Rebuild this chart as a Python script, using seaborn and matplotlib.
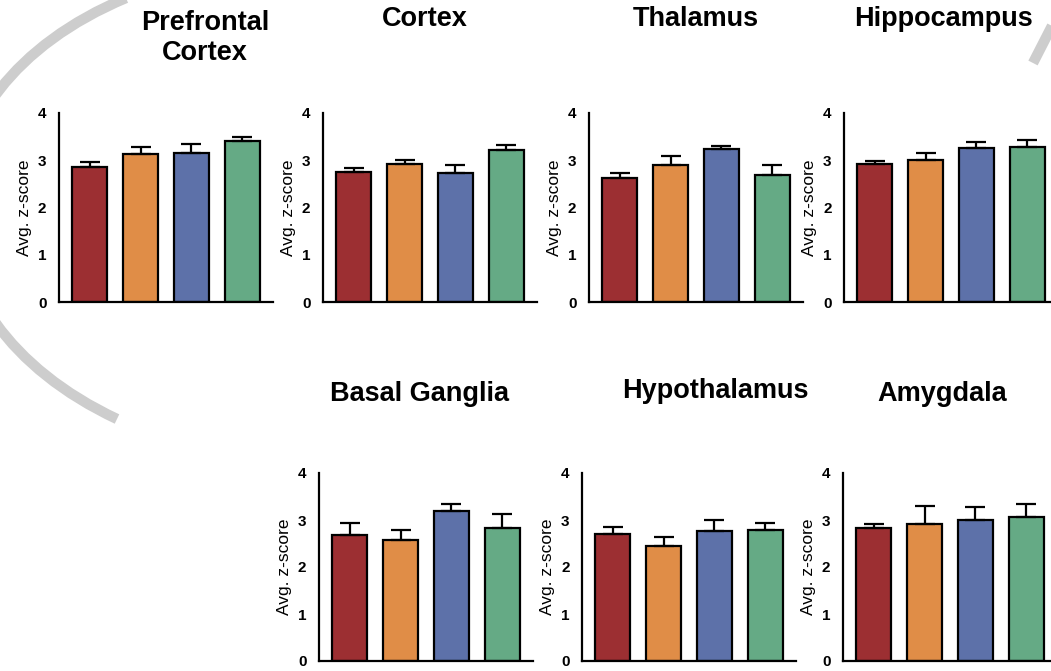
import numpy as np
import pandas as pd
import matplotlib
matplotlib.use("Agg")
import matplotlib.pyplot as plt
from matplotlib.path import Path
from matplotlib.patches import PathPatch
from matplotlib.lines import Line2D
import seaborn as sns

# ---- data -----------------------------------------------------------------
regions = ["Prefrontal\nCortex", "Cortex", "Thalamus", "Hippocampus",
           "Basal Ganglia", "Hypothalamus", "Amygdala"]
groups = ["Group 1", "Group 2", "Group 3", "Group 4"]

prefrontal_mean = [2.86, 3.13, 3.15, 3.41]
prefrontal_sem = [0.10, 0.16, 0.19, 0.08]
cortex_mean = [2.75, 2.92, 2.74, 3.21]
cortex_sem = [0.09, 0.09, 0.16, 0.12]
thalamus_mean = [2.62, 2.91, 3.24, 2.68]
thalamus_sem = [0.12, 0.17, 0.07, 0.21]
hippocampus_mean = [2.93, 3.00, 3.25, 3.28]
hippocampus_sem = [0.05, 0.16, 0.14, 0.14]
basal_ganglia_mean = [2.69, 2.57, 3.20, 2.82]
basal_ganglia_sem = [0.24, 0.21, 0.13, 0.31]
hypothalamus_mean = [2.71, 2.44, 2.76, 2.78]
hypothalamus_sem = [0.15, 0.20, 0.23, 0.16]
amygdala_mean = [2.84, 2.91, 3.01, 3.06]
amygdala_sem = [0.07, 0.38, 0.27, 0.27]

means = [prefrontal_mean, cortex_mean, thalamus_mean, hippocampus_mean,
         basal_ganglia_mean, hypothalamus_mean, amygdala_mean]
sems = [prefrontal_sem, cortex_sem, thalamus_sem, hippocampus_sem,
        basal_ganglia_sem, hypothalamus_sem, amygdala_sem]

yticks = [0, 1, 2, 3, 4]
colors = ["#9C2F32", "#E08D47", "#5D71A9", "#65AA85"]

# ---- style ----------------------------------------------------------------
sns.set_style("white")
plt.rcParams["font.family"] = ["Liberation Sans", "DejaVu Sans"]
plt.rcParams.update({"text.color": "black", "axes.labelcolor": "black",
                     "xtick.color": "black", "ytick.color": "black"})

W, H = 1051, 671
fig = plt.figure(figsize=(W / 100, H / 100), dpi=100)
fig.patch.set_facecolor("white")


def px(x, y):
    """Pixel position (origin top-left) -> figure fraction."""
    return x / W, 1 - y / H


# decorative grey swoosh behind the panels
swoosh = Path([px(126, -2), px(-98, 92), px(-98, 318), px(117, 419)],
              [Path.MOVETO, Path.CURVE4, Path.CURVE4, Path.CURVE4])
fig.add_artist(PathPatch(swoosh, transform=fig.transFigure, fill=False,
                         edgecolor="#cdcdcd", lw=7.5, capstyle="butt", zorder=0))
x0, y0 = px(1054, 22)
x1, y1 = px(1033, 63)
fig.add_artist(Line2D([x0, x1], [y0, y1], transform=fig.transFigure,
                      color="#cdcdcd", lw=7.5, solid_capstyle="butt", zorder=0))

# panel frames in pixels: left, top, bottom, title centre x,
# baseline y of the title's last line
frames = [
    (59, 113, 302, 205, 60),
    (323, 113, 302, 425, 26),
    (589, 113, 302, 696, 26),
    (844, 113, 302, 943, 26),
    (319, 473, 661, 420, 401),
    (582, 473, 661, 715, 398),
    (843, 473, 661, 942, 401),
]
AX_W = 214

for region, m, s, (left, top, bottom, tx, ty) in zip(regions, means, sems, frames):
    fx, fy = px(left, bottom)
    ax = fig.add_axes([fx, fy, AX_W / W, (bottom - top) / H])
    ax.patch.set_alpha(0)

    df = pd.DataFrame({"group": groups, "score": m})
    sns.barplot(data=df, x="group", y="score", hue="group", palette=colors,
                saturation=1, width=0.7, edgecolor="black", linewidth=1.6,
                errorbar=None, legend=False, ax=ax, zorder=2)
    ax.errorbar(np.arange(len(groups)), m,
                yerr=[np.zeros(len(groups)), s],
                fmt="none", ecolor="black", elinewidth=1.6,
                capsize=7, capthick=1.6, zorder=3)

    ax.set_xlim(-0.6, 3.6)
    ax.set_ylim(0, 4)
    sns.despine(ax=ax)
    for side in ("left", "bottom"):
        ax.spines[side].set_linewidth(1.6)
        ax.spines[side].set_color("black")

    ax.set_yticks(yticks)
    ax.set_yticklabels([str(t) for t in yticks], fontweight="bold")
    ax.tick_params(axis="y", length=2, color="#bbbbbb", pad=7, labelsize=11)
    ax.tick_params(axis="x", length=2, color="#cccccc", labelbottom=False)
    ax.set_xlabel("")
    ax.set_ylabel("Avg. z-score", fontsize=12.5, labelpad=4)

    tfx, tfy = px(tx, ty)
    fig.text(tfx, tfy, region, ha="center", va="baseline", fontsize=19.5,
             fontweight="bold", linespacing=1.2)

fig.savefig("out.png", dpi=100)
